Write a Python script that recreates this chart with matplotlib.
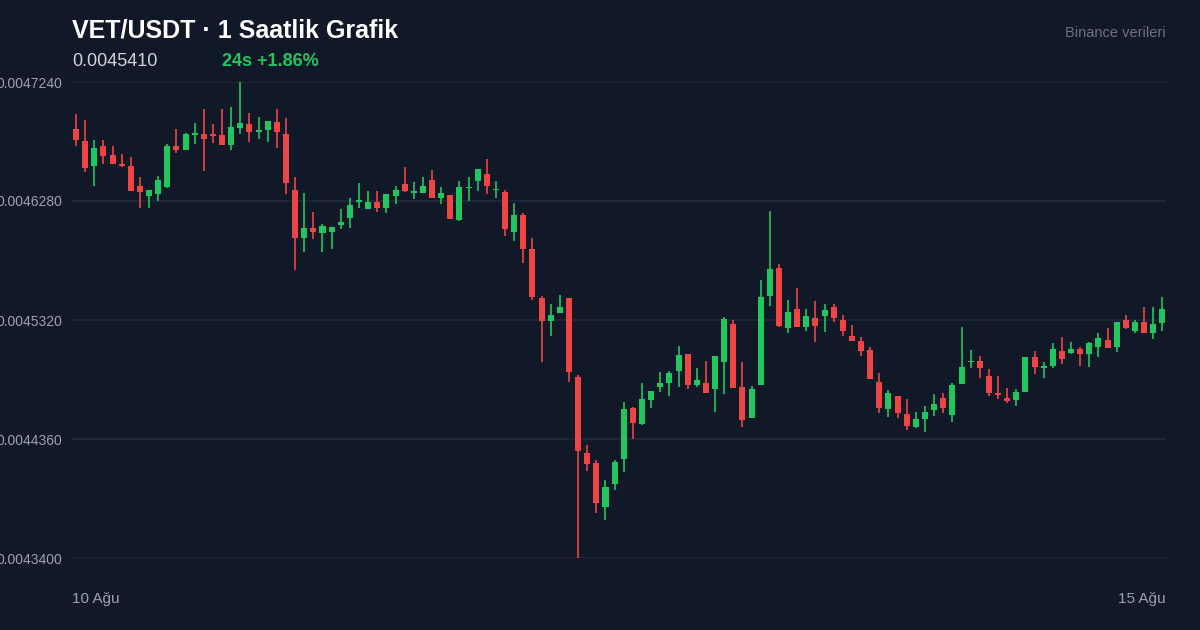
import numpy as np
import matplotlib
matplotlib.use("Agg")
from matplotlib import pyplot as plt

plt.rcParams['font.family'] = ['Liberation Sans', 'DejaVu Sans']

# OHLC values in units of 1e-7 USDT
opens = [46861, 46764, 46562, 46724, 46651, 46578, 46562, 46401, 46320, 46336,
         46393, 46724, 46691, 46812, 46820, 46820, 46812, 46731, 46868, 46901,
         46836, 46852, 46917, 46820, 46368, 45981, 46062, 46021, 46030, 46086,
         46142, 46272, 46215, 46272, 46223, 46320, 46417, 46344, 46344, 46449,
         46304, 46328, 46126, 46384, 46441, 46497, 46368, 46352, 46030, 46167,
         45892, 45497, 45312, 45376, 45497, 44860, 44247, 44166, 43811, 43997,
         44198, 44610, 44481, 44674, 44779, 44811, 44908, 45045, 44795, 44811,
         44763, 44981, 45287, 44779, 44529, 44795, 45513, 45739, 45255, 45408,
         45263, 45336, 45352, 45424, 45320, 45190, 45150, 45078, 44819, 44602,
         44707, 44561, 44456, 44521, 44593, 44690, 44553, 44803, 44981, 44989,
         44868, 44731, 44690, 44674, 44739, 45021, 44932, 44948, 45069, 45053,
         45086, 45045, 45102, 45158, 45102, 45320, 45231, 45303, 45215, 45295]
closes = [46772, 46546, 46707, 46643, 46578, 46562, 46360, 46352, 46368, 46449,
          46724, 46691, 46820, 46828, 46780, 46804, 46731, 46877, 46909, 46836,
          46852, 46925, 46836, 46425, 45981, 46062, 46030, 46078, 46070, 46110,
          46247, 46288, 46272, 46223, 46336, 46368, 46360, 46360, 46401, 46304,
          46344, 46134, 46393, 46393, 46538, 46401, 46376, 46054, 46167, 45892,
          45505, 45312, 45360, 45424, 44900, 44263, 44158, 43843, 43972, 44174,
          44602, 44489, 44682, 44747, 44811, 44892, 45037, 44795, 44836, 44731,
          45029, 45328, 44771, 44513, 44763, 45505, 45731, 45271, 45384, 45263,
          45352, 45271, 45400, 45336, 45231, 45150, 45069, 44844, 44610, 44731,
          44569, 44464, 44521, 44577, 44642, 44610, 44795, 44940, 44989, 44932,
          44731, 44715, 44666, 44739, 45021, 44940, 44948, 45086, 45005, 45086,
          45045, 45134, 45174, 45094, 45303, 45255, 45303, 45215, 45287, 45410]
highs = [46982, 46933, 46772, 46772, 46724, 46659, 46635, 46473, 46368, 46481,
         46739, 46861, 46828, 46909, 47022, 46901, 47022, 47038, 47240, 46989,
         46957, 46925, 47022, 46949, 46473, 46344, 46191, 46094, 46070, 46215,
         46304, 46425, 46360, 46360, 46336, 46401, 46554, 46433, 46473, 46530,
         46393, 46328, 46441, 46473, 46538, 46618, 46441, 46368, 46263, 46183,
         45981, 45513, 45449, 45521, 45497, 44876, 44311, 44190, 44029, 44190,
         44658, 44618, 44811, 44747, 44900, 44908, 45110, 45045, 44932, 44989,
         45029, 45344, 45320, 44981, 44787, 45642, 46199, 45771, 45481, 45578,
         45408, 45473, 45449, 45449, 45360, 45279, 45182, 45102, 44892, 44755,
         44707, 44682, 44577, 44626, 44723, 44731, 44811, 45263, 45078, 45029,
         44924, 44868, 44771, 44763, 45021, 45069, 44981, 45134, 45182, 45142,
         45102, 45142, 45215, 45255, 45303, 45360, 45320, 45424, 45424, 45505]
lows = [46724, 46514, 46401, 46578, 46578, 46554, 46360, 46223, 46223, 46280,
        46384, 46667, 46691, 46739, 46522, 46747, 46731, 46691, 46820, 46756,
        46780, 46756, 46707, 46336, 45723, 45868, 45973, 45868, 45892, 46054,
        46062, 46223, 46215, 46191, 46183, 46255, 46352, 46296, 46344, 46304,
        46255, 46134, 46118, 46280, 46360, 46336, 46304, 45997, 45957, 45779,
        45481, 44981, 45190, 45376, 44819, 43400, 44101, 43763, 43706, 43948,
        44093, 44360, 44473, 44610, 44739, 44707, 44779, 44763, 44779, 44731,
        44577, 44723, 44771, 44456, 44529, 44795, 45432, 45263, 45215, 45263,
        45231, 45142, 45223, 45303, 45190, 45150, 45029, 44844, 44569, 44537,
        44529, 44432, 44448, 44416, 44545, 44569, 44497, 44803, 44932, 44852,
        44707, 44682, 44650, 44626, 44739, 44884, 44852, 44932, 44965, 45045,
        44948, 44940, 45021, 45094, 45061, 45247, 45215, 45215, 45166, 45231]
y_ticks = [47240, 46280, 45320, 44360, 43400]
x_labels = ["10 Ağu", "15 Ağu"]

o = np.array(opens) * 1e-7
c = np.array(closes) * 1e-7
h = np.array(highs) * 1e-7
l = np.array(lows) * 1e-7
x = np.arange(len(o))

BG = "#111827"
GREEN = "#22c55e"
RED = "#ef4444"

fig = plt.figure(figsize=(12, 6.3), dpi=100, facecolor=BG)
ax = fig.add_axes([72 / 1200, 1 - 558 / 630, 1094 / 1200, 476 / 630])
ax.set_facecolor(BG)

up = c >= o
colors = np.where(up, GREEN, RED)
ax.vlines(x, l, h, colors=colors, linewidth=1.2, zorder=3, clip_on=False)
ax.bar(x, np.maximum(np.abs(c - o), 2e-7), bottom=np.minimum(o, c), width=0.66,
       color=colors, zorder=4, clip_on=False)

ax.set_xlim(-0.44, 119.4)
ax.set_ylim(y_ticks[-1] * 1e-7, y_ticks[0] * 1e-7)
ax.set_yticks([v * 1e-7 for v in y_ticks])
ax.set_yticklabels([f"{v * 1e-7:.7f}" for v in y_ticks])
ax.tick_params(axis="y", colors="#9ca3af", labelsize=10, length=0, pad=7)
ax.set_xticks([])
ax.grid(axis="y", color="#1f2937", linewidth=1.2, zorder=0)
for s in ax.spines.values():
    s.set_visible(False)

fig.text(72 / 1200, 1 - 30 / 630, "VET/USDT · 1 Saatlik Grafik", color="white",
         fontsize=18, fontweight="bold", va="center")
fig.text(72 / 1200, 1 - 61 / 630, "0.0045410", color="#d1d5db", fontsize=13, va="center")
fig.text(222 / 1200, 1 - 61 / 630, "24s +1.86%", color=GREEN, fontsize=13,
         fontweight="bold", va="center")
fig.text(1166 / 1200, 1 - 33 / 630, "Binance verileri", color="#6b7280", fontsize=10.5,
         ha="right", va="center")
fig.text(72 / 1200, 1 - 599 / 630, x_labels[0], color="#9ca3af", fontsize=11, va="center")
fig.text(1166 / 1200, 1 - 599 / 630, x_labels[1], color="#9ca3af", fontsize=11,
         ha="right", va="center")

fig.savefig("out.png", dpi=100, facecolor=BG)
